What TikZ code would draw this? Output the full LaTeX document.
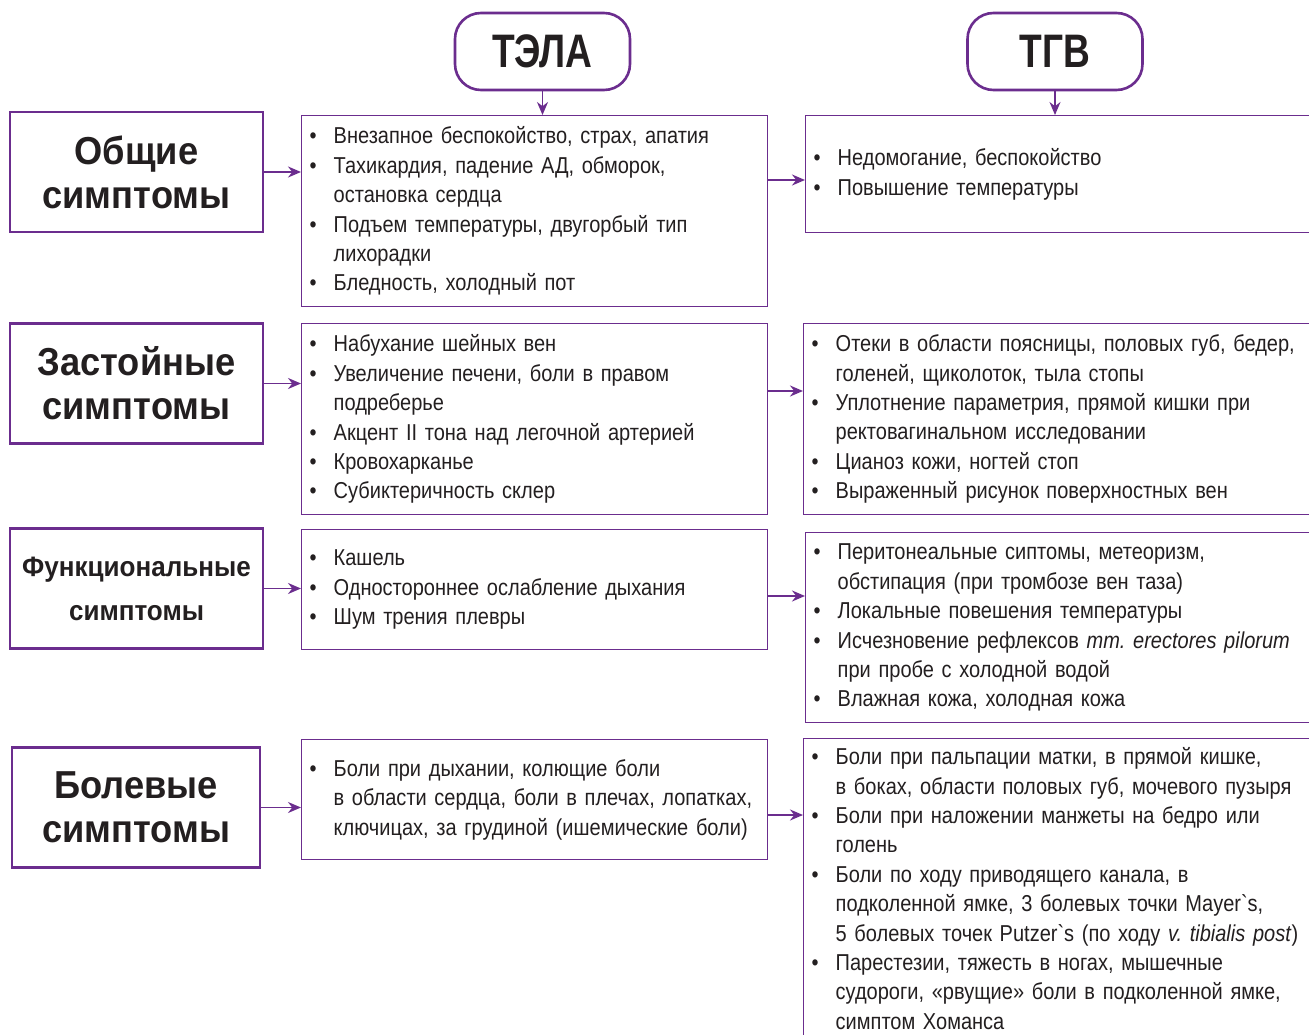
\documentclass[tikz,border=0pt]{standalone}
\usepackage{fontspec}
\newfontfamily\bodyfont[FakeStretch=0.87]{Liberation Sans}
\newfontfamily\headfont[FakeStretch=0.79]{Liberation Sans Bold}
\newfontfamily\grpfont[FakeStretch=0.93]{Liberation Sans Bold}
\usetikzlibrary{arrows.meta}
\definecolor{lila}{HTML}{6B2D8E}
\definecolor{ink}{HTML}{231F20}
\newcommand{\bl}{\makebox[24pt][l]{\textbullet}}
\newcommand{\ct}{\hspace*{24pt}}
\frenchspacing
\tikzset{
	head/.style={draw=lila,line width=2.6pt,rounded corners=26pt,minimum width=175pt,minimum height=77pt,inner sep=0pt,font=\headfont\fontsize{47}{50}\selectfont},
	grp/.style 2 args={draw=lila,line width=2.2pt,minimum width=#1,minimum height=120pt,inner sep=0pt,align=center,font=\grpfont\fontsize{#2}{44}\selectfont},
	lst/.style 2 args={draw=lila,line width=1.4pt,anchor=north west,inner xsep=8pt,inner ysep=6pt,text width=#1,minimum height=#2,align=left,font=\bodyfont\fontsize{23}{29.4}\selectfont},
	arr/.style={draw=lila,line width=1.6pt,-{Stealth[length=13pt,width=11pt]}}
}
\begin{document}
\begin{tikzpicture}[x=1pt,y=-1pt,text=ink]
	\useasboundingbox (0,0) rectangle (1309,1035);
	\fill[white] (0,0) rectangle (1309,1035);
	% headers
	\node [head] (tela) at (542.5,51.5) {ТЭЛА};
	\node [head] (tgv) at (1055,51.5) {ТГВ};

	% left column
	\node [grp={253pt}{39}] (g1) at (136.5,172) {Общие\\симптомы};
	\node [grp={253pt}{39}] (g2) at (136.5,383.5) {Застойные\\симптомы};
	\node [grp={253pt}{28}] (g3) at (136.5,588.5) {Функциональные\\симптомы};
	\node [grp={248pt}{39}] (g4) at (136,807.5) {Болевые\\симптомы};

	% TELA column
	\node [lst={450pt}{191pt}] (m1) at (301,115) {\bl Внезапное беспокойство, страх, апатия\\
		\bl Тахикардия, падение АД, обморок,\\
		\ct остановка сердца\\
		\bl Подъем температуры, двугорбый тип\\
		\ct лихорадки\\
		\bl Бледность, холодный пот};
	\node [lst={450pt}{191pt}] (m2) at (301,323) {\bl Набухание шейных вен\\
		\bl Увеличение печени, боли в правом\\
		\ct подреберье\\
		\bl Акцент II тона над легочной артерией\\
		\bl Кровохарканье\\
		\bl Субиктеричность склер};
	\node [lst={450pt}{120pt}] (m3) at (301,529) {\bl Кашель\\
		\bl Одностороннее ослабление дыхания\\
		\bl Шум трения плевры};
	\node [lst={450pt}{120pt}] (m4) at (301,739) {\bl Боли при дыхании, колющие боли\\
		\ct в области сердца, боли в плечах, лопатках,\\
		\ct ключицах, за грудиной (ишемические боли)};

	% TGV column
	\node [lst={514pt}{117pt}] (r1) at (805,115) {\bl Недомогание, беспокойство\\
		\bl Повышение температуры};
	\node [lst={514pt}{191pt}] (r2) at (803,323) {\bl Отеки в области поясницы, половых губ, бедер,\\
		\ct голеней, щиколоток, тыла стопы\\
		\bl Уплотнение параметрия, прямой кишки при\\
		\ct ректовагинальном исследовании\\
		\bl Цианоз кожи, ногтей стоп\\
		\bl Выраженный рисунок поверхностных вен};
	\node [lst={514pt}{190pt}] (r3) at (805,532) {\bl Перитонеальные сиптомы, метеоризм,\\
		\ct обстипация (при тромбозе вен таза)\\
		\bl Локальные повешения температуры\\
		\bl Исчезновение рефлексов \textit{mm. erectores pilorum}\\
		\ct при пробе с холодной водой\\
		\bl Влажная кожа, холодная кожа};
	\node [lst={514pt}{0pt},inner ysep=9pt] (r4) at (803,738) {\bl Боли при пальпации матки, в прямой кишке,\\
		\ct в боках, области половых губ, мочевого пузыря\\
		\bl Боли при наложении манжеты на бедро или\\
		\ct голень\\
		\bl Боли по ходу приводящего канала, в\\
		\ct подколенной ямке, 3 болевых точки Mayer`s,\\
		\ct 5 болевых точек Putzer`s (по ходу \textit{v. tibialis post})\\
		\bl Парестезии, тяжесть в ногах, мышечные\\
		\ct судороги, «рвущие» боли в подколенной ямке,\\
		\ct симптом Хоманса};

	% arrows
	\draw [arr] (tela.south) -- (tela.south |- m1.north);
	\draw [arr] (tgv.south) -- (tgv.south |- r1.north);
	\draw [arr] (g1.east) -- (g1.east -| m1.west);
	\draw [arr] (g2.east) -- (g2.east -| m2.west);
	\draw [arr] (g3.east) -- (g3.east -| m3.west);
	\draw [arr] (g4.east) -- (g4.east -| m4.west);
	\draw [arr] (m1.east |- 0,180) -- (r1.west |- 0,180);
	\draw [arr] (m2.east |- 0,391) -- (r2.west |- 0,391);
	\draw [arr] (m3.east |- 0,596) -- (r3.west |- 0,596);
	\draw [arr] (m4.east |- 0,815) -- (r4.west |- 0,815);
\end{tikzpicture}
\end{document}
